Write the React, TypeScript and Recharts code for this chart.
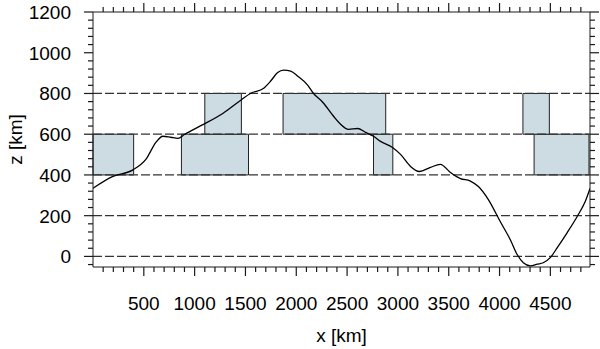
import { ComposedChart, Line, XAxis, YAxis, ReferenceLine, ReferenceArea, Label } from "recharts";

// profile of z along x (km)
const xKm = [0, 196, 393, 520, 619, 688, 766, 835, 904, 1061, 1277, 1454, 1552, 1680, 1748, 1817, 1876, 1945, 2014, 2112, 2170, 2260, 2367, 2436, 2515, 2603, 2682, 2760, 2829, 2947, 3026, 3124, 3212, 3320, 3418, 3517, 3615, 3713, 3792, 3890, 4008, 4106, 4175, 4234, 4303, 4371, 4430, 4499, 4568, 4666, 4764, 4843, 4890];
const zKm = [335, 393, 425, 476, 560, 590, 585, 580, 600, 642, 702, 767, 801, 826, 861, 903, 915, 910, 885, 841, 800, 757, 688, 649, 624, 628, 609, 590, 565, 535, 501, 442, 417, 437, 452, 412, 382, 370, 343, 279, 170, 82, 8, -31, -46, -38, -31, -6, 43, 117, 196, 269, 333];

// shaded blocks: [x1, x2, zBottom, zTop]
const blocks: [number, number, number, number][] = [
  [0, 400, 400, 600],
  [870, 1530, 400, 600],
  [2760, 2950, 400, 600],
  [4340, 4880, 400, 600],
  [1100, 1460, 600, 800],
  [1870, 2880, 600, 800],
  [4230, 4490, 600, 800],
];

const levels = [0, 200, 400, 600, 800];

const xTicks = Array.from({ length: 48 }, (_, i) => (i + 1) * 100);
const yTicks = Array.from({ length: 32 }, (_, i) => -40 + i * 40);

const data = xKm.map((x, i) => ({ x, z: zKm[i] }));

const FONT = "'Liberation Sans', Arial, Helvetica, sans-serif";
const INK = "#1a1a1a";
const MAJOR = 9;
const MINOR = 5;

// ticks are drawn by hand so that major and minor ticks get different lengths
const BottomTick = ({ x, y, payload }: any) => {
  const v = payload.value;
  const major = v % 500 === 0;
  return (
    <g>
      <path d={`M${x},${y}V${y + (major ? MAJOR : MINOR)}`} stroke={INK} strokeWidth={1.2} fill="none" />
      {major && (
        <text x={x} y={y + 43} textAnchor="middle" fontSize={19} fontFamily={FONT} fill="#000">
          {v}
        </text>
      )}
    </g>
  );
};

const TopTick = ({ x, y, payload }: any) => {
  const major = payload.value % 500 === 0;
  return <path d={`M${x},${y}V${y - (major ? MAJOR : MINOR)}`} stroke={INK} strokeWidth={1.2} fill="none" />;
};

const LeftTick = ({ x, y, payload }: any) => {
  const v = payload.value;
  const major = v % 200 === 0;
  return (
    <g>
      <path d={`M${x},${y}H${x - (major ? MAJOR : MINOR)}`} stroke={INK} strokeWidth={1.2} fill="none" />
      {major && (
        <text x={x - 22} y={y + 7} textAnchor="end" fontSize={19} fontFamily={FONT} fill="#000">
          {v}
        </text>
      )}
    </g>
  );
};

const RightTick = ({ x, y, payload }: any) => {
  const major = payload.value % 200 === 0;
  return <path d={`M${x},${y}H${x + (major ? MAJOR : MINOR)}`} stroke={INK} strokeWidth={1.2} fill="none" />;
};

export default function App() {
  return (
    <div style={{ position: "absolute", left: 0, top: 0 }}>
      <ComposedChart width={600} height={349} data={data} margin={{ top: 11, right: 9, left: 0, bottom: 0 }}>
        <XAxis
          xAxisId="b"
          dataKey="x"
          type="number"
          domain={[0, 4890]}
          ticks={xTicks}
          interval={0}
          tickSize={0}
          tickMargin={0}
          tick={<BottomTick />}
          tickLine={false}
          height={82}
          stroke={INK}
          allowDataOverflow
        >
          <Label value="x [km]" position="insideBottom" offset={7} fontSize={19} fontFamily={FONT} fill="#000" />
        </XAxis>
        <XAxis
          xAxisId="t"
          orientation="top"
          dataKey="x"
          type="number"
          domain={[0, 4890]}
          ticks={xTicks}
          interval={0}
          tickSize={0}
          tickMargin={0}
          tick={<TopTick />}
          tickLine={false}
          height={1}
          stroke={INK}
          allowDataOverflow
        />
        <YAxis
          yAxisId="l"
          type="number"
          domain={[-52, 1200]}
          ticks={yTicks}
          interval={0}
          tickSize={0}
          tickMargin={0}
          tick={<LeftTick />}
          tickLine={false}
          width={93}
          stroke={INK}
          allowDataOverflow
        >
          <Label
            value="z [km]"
            angle={-90}
            position="insideLeft"
            offset={15}
            fontSize={19}
            fontFamily={FONT}
            fill="#000"
            style={{ textAnchor: "middle" }}
          />
        </YAxis>
        <YAxis
          yAxisId="r"
          orientation="right"
          type="number"
          domain={[-52, 1200]}
          ticks={yTicks}
          interval={0}
          tickSize={0}
          tickMargin={0}
          tick={<RightTick />}
          tickLine={false}
          width={1}
          stroke={INK}
          allowDataOverflow
        />
        {blocks.map(([x1, x2, y1, y2], i) => (
          <ReferenceArea
            key={`blk-${i}`}
            xAxisId="b"
            yAxisId="l"
            x1={x1}
            x2={x2}
            y1={y1}
            y2={y2}
            fill="#cddbe3"
            fillOpacity={1}
            stroke="#222"
            strokeWidth={1}
          />
        ))}
        {levels.map((lv) => (
          <ReferenceLine key={`lv-${lv}`} xAxisId="b" yAxisId="l" y={lv} stroke="#333" strokeDasharray="9 3" strokeWidth={1.2} />
        ))}
        <Line
          xAxisId="b"
          yAxisId="l"
          dataKey="z"
          type="monotone"
          stroke="#000"
          strokeWidth={1.3}
          dot={false}
          isAnimationActive={false}
        />
      </ComposedChart>
    </div>
  );
}
